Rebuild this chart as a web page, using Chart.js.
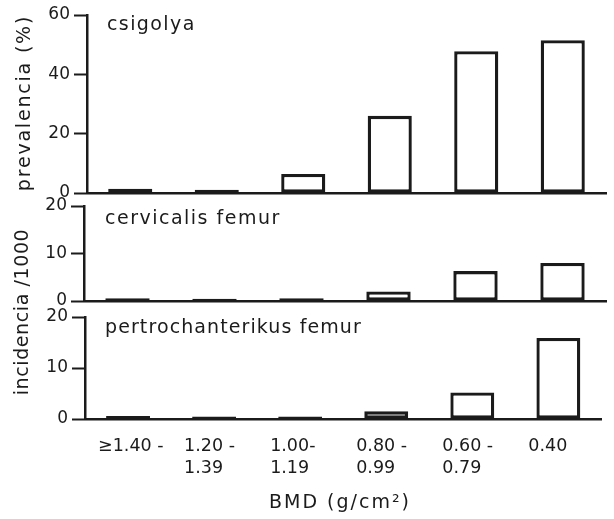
<!DOCTYPE html>
<html>
<head>
<meta charset="utf-8">
<script src="https://cdn.jsdelivr.net/npm/chart.js@4/dist/chart.umd.min.js"></script>
<style>
  html, body { margin: 0; padding: 0; background: #fff; }
  #wrap { position: relative; width: 614px; height: 519px; }
  #wrap canvas { position: absolute; left: 0; top: 0; }
</style>
</head>
<body>
<div id="wrap">
  <canvas id="vertebra" width="614" height="519"></canvas>
  <canvas id="cervical" width="614" height="519"></canvas>
  <canvas id="trochanter" width="614" height="519"></canvas>
</div>
<script>
const bmdLabels = [
  ["≥1.40 -", ""],
  ["1.20 -", "1.39"],
  ["1.00-", "1.19"],
  ["0.80 -", "0.99"],
  ["0.60 -", "0.79"],
  "0.40",
];
const vertebraPrevalence = [1.4, 1.1, 6.4, 26, 47.8, 51.5];
const cervicalIncidence = [0.6, 0.5, 0.6, 2.0, 6.3, 8.0];
const trochanterIncidence = [0.6, 0.5, 0.5, 1.5, 5.2, 15.9];

const vertebraTicks = [0, 20, 40, 60];
const incidenceTicks = [0, 10, 20];

const ink = "#1b1b1b";
const fontFamily = "'DejaVu Sans', sans-serif";

// free text (panel names, axis titles) drawn onto the chart canvas
const textPlugin = {
  id: "panelText",
  afterDraw(chart, args, opts) {
    const ctx = chart.ctx;
    for (const t of opts.items || []) {
      ctx.save();
      ctx.font = t.font;
      ctx.fillStyle = ink;
      ctx.letterSpacing = t.spacing || "0px";
      ctx.translate(t.x, t.y);
      ctx.rotate(t.rot || 0);
      ctx.textAlign = t.align || "left";
      ctx.textBaseline = t.baseline || "alphabetic";
      ctx.fillText(t.text, 0, 0);
      ctx.restore();
    }
  },
};

function makePanel(id, values, tickValues, box, extra) {
  const showX = !!extra.showX;
  return new Chart(document.getElementById(id), {
    type: "bar",
    data: {
      labels: bmdLabels,
      datasets: [
        {
          data: values,
          backgroundColor: "#fff",
          borderColor: ink,
          borderWidth: 3.3,
          borderSkipped: false,
          barPercentage: 0.51,
          categoryPercentage: 1,
        },
      ],
    },
    plugins: [textPlugin],
    options: {
      responsive: false,
      animation: false,
      devicePixelRatio: 1,
      layout: {
        padding: { top: box.top, bottom: box.bottom, left: 0, right: 8 },
      },
      plugins: {
        legend: { display: false },
        tooltip: { enabled: false },
        panelText: { items: extra.texts },
      },
      scales: {
        x: {
          afterFit: (scale) => {
            scale.height = showX ? 519 - box.area : 0;
          },
          grid: { display: true, drawOnChartArea: false, drawTicks: false },
          border: { display: true, color: ink, width: 2.5 },
          ticks: {
            display: showX,
            color: ink,
            font: { family: fontFamily, size: 17.5, lineHeight: 1.28 },
            align: "start",
            labelOffset: -30,
            padding: 16,
            maxRotation: 0,
            autoSkip: false,
          },
        },
        y: {
          min: 0,
          max: tickValues[tickValues.length - 1],
          afterFit: (scale) => {
            scale.width = box.left;
          },
          afterBuildTicks: (scale) => {
            scale.ticks = tickValues.map((v) => ({ value: v }));
          },
          grid: {
            drawOnChartArea: false,
            drawTicks: true,
            tickLength: 13,
            tickWidth: 2,
            tickColor: ink,
          },
          border: { display: true, color: ink, width: 2.5 },
          ticks: {
            color: ink,
            font: { family: fontFamily, size: 17 },
            padding: 4,
          },
        },
      },
    },
  });
}

const labelFont = "19px " + fontFamily;
const titleFont = "19px " + fontFamily;

makePanel("vertebra", vertebraPrevalence, vertebraTicks,
  { top: 15, bottom: 519 - 193, left: 87 },
  {
    texts: [
      { text: "csigolya", x: 107, y: 30, font: labelFont, spacing: "1.4px" },
      {
        text: "prevalencia (%)", x: 25, y: 103, rot: -Math.PI / 2,
        align: "center", baseline: "middle", font: titleFont, spacing: "1.8px",
      },
    ],
  });

makePanel("cervical", cervicalIncidence, incidenceTicks,
  { top: 206, bottom: 519 - 301, left: 84 },
  {
    texts: [{ text: "cervicalis femur", x: 105, y: 224, font: labelFont, spacing: "1.5px" }],
  });

makePanel("trochanter", trochanterIncidence, incidenceTicks,
  { top: 317, bottom: 0, left: 85, area: 419 },
  {
    showX: true,
    texts: [
      { text: "pertrochanterikus femur", x: 105, y: 333, font: labelFont, spacing: "1.1px" },
      {
        text: "incidencia /1000", x: 23, y: 312, rot: -Math.PI / 2,
        align: "center", baseline: "middle", font: titleFont, spacing: "0.6px",
      },
      {
        text: "BMD (g/cm²)", x: 340, y: 503,
        align: "center", baseline: "middle", font: titleFont, spacing: "2px",
      },
    ],
  });
</script>
</body>
</html>
